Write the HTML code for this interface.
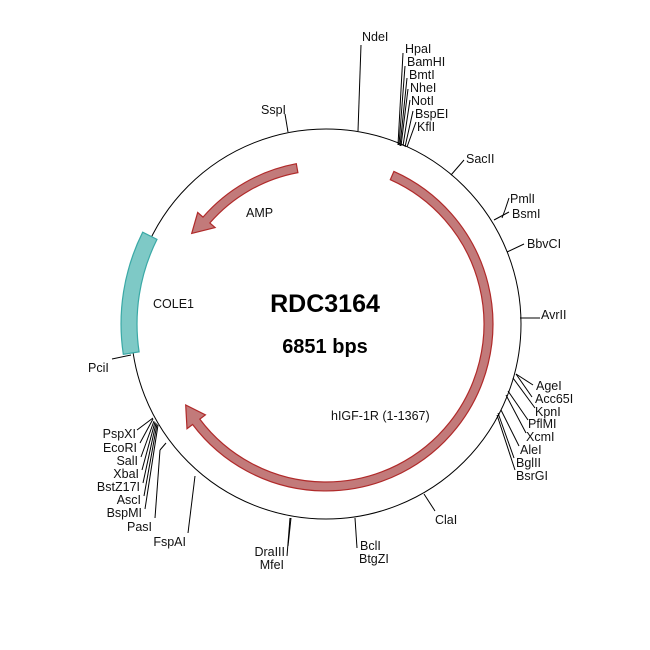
<!DOCTYPE html>
<html><head><meta charset="utf-8"><style>
html,body{margin:0;padding:0;background:#fff;}
svg{display:block;}
text{font-family:"Liberation Sans",Arial,sans-serif;font-size:12.5px;fill:#111;}
</style></head><body>
<svg width="650" height="650" viewBox="0 0 650 650" xmlns="http://www.w3.org/2000/svg">
<circle cx="326" cy="324" r="195" fill="none" stroke="#000" stroke-width="1"/>
<path d="M123.3,354.3 A205 205 0 0 1 142.7,232.2 L157,239.4 A189 189 0 0 0 139.1,351.9 Z" fill="#7ec9c6" stroke="#3aa9a6" stroke-width="1.2"/>
<path d="M296.3,163.7 A163 163 0 0 0 203,217.1 L197.7,212.5 L191.7,233.4 L215.1,227.6 L209.8,223 A154 154 0 0 1 297.9,172.6 Z" fill="#c27a7a" stroke="#b02a2a" stroke-width="1.2"/>
<path d="M393.9,171.4 A167 167 0 1 1 192.6,424.5 L187,428.7 L185.7,405 L205.4,414.9 L199.8,419.1 A158 158 0 1 0 390.3,179.7 Z" fill="#c27a7a" stroke="#b02a2a" stroke-width="1.2"/>
<g stroke="#000" stroke-width="1" fill="none">
<line x1="358" y1="131" x2="361" y2="45"/>
<line x1="398" y1="145" x2="403" y2="53"/>
<line x1="399" y1="145" x2="405" y2="66"/>
<line x1="400" y1="146" x2="407" y2="78"/>
<line x1="401" y1="146" x2="408" y2="89"/>
<line x1="403" y1="146" x2="410" y2="100"/>
<line x1="405" y1="147" x2="413" y2="111"/>
<line x1="407" y1="147" x2="416" y2="122"/>
<line x1="451" y1="175" x2="464" y2="160"/>
<line x1="502" y1="218" x2="505" y2="210"/><line x1="505" y1="210" x2="509" y2="198"/>
<line x1="494" y1="220" x2="509" y2="212"/>
<line x1="507" y1="252" x2="524" y2="244"/>
<line x1="520" y1="318" x2="540" y2="318"/>
<line x1="288" y1="132" x2="285" y2="114"/>
<line x1="131" y1="355" x2="112" y2="359"/>
<line x1="516" y1="374" x2="533" y2="385"/><line x1="516" y1="374" x2="532" y2="397"/>
<line x1="513" y1="378" x2="535" y2="408"/>
<line x1="508" y1="391" x2="528" y2="420"/>
<line x1="506" y1="395" x2="526" y2="433"/>
<line x1="501" y1="410" x2="519" y2="446"/>
<line x1="498" y1="413" x2="514" y2="458"/>
<line x1="497" y1="415" x2="515" y2="470"/>
<line x1="424" y1="494" x2="435" y2="511"/>
<line x1="355" y1="518" x2="357" y2="548"/>
<line x1="290" y1="518" x2="287" y2="556"/>
<line x1="291" y1="518" x2="288" y2="546"/>
<line x1="195" y1="476" x2="188" y2="533"/>
<line x1="166" y1="443" x2="160" y2="450"/><line x1="160" y1="450" x2="155" y2="518"/>
<line x1="153" y1="418" x2="137" y2="430"/>
<line x1="153" y1="419" x2="140" y2="443"/>
<line x1="154" y1="421" x2="141" y2="457"/>
<line x1="155" y1="422" x2="142" y2="470"/>
<line x1="156" y1="423" x2="143" y2="483"/>
<line x1="157" y1="424" x2="144" y2="496"/>
<line x1="158" y1="425" x2="145" y2="509"/>
</g>
<text x="362" y="41">NdeI</text>
<text x="405" y="53">HpaI</text>
<text x="407" y="66">BamHI</text>
<text x="409" y="79">BmtI</text>
<text x="410" y="92">NheI</text>
<text x="411" y="105">NotI</text>
<text x="415" y="118">BspEI</text>
<text x="417" y="131">KflI</text>
<text x="466" y="163">SacII</text>
<text x="510" y="203">PmlI</text>
<text x="512" y="218">BsmI</text>
<text x="527" y="248">BbvCI</text>
<text x="541" y="319">AvrII</text>
<text x="261" y="114">SspI</text>
<text x="88" y="372">PciI</text>
<text x="536" y="390">AgeI</text>
<text x="535" y="403">Acc65I</text>
<text x="535" y="416">KpnI</text>
<text x="528" y="428">PflMI</text>
<text x="526" y="441">XcmI</text>
<text x="520" y="454">AleI</text>
<text x="516" y="467">BglII</text>
<text x="516" y="480">BsrGI</text>
<text x="435" y="524">ClaI</text>
<text x="360" y="550">BclI</text>
<text x="359" y="563">BtgZI</text>
<text x="285" y="556" text-anchor="end">DraIII</text>
<text x="284" y="569" text-anchor="end">MfeI</text>
<text x="186" y="546" text-anchor="end">FspAI</text>
<text x="152" y="531" text-anchor="end">PasI</text>
<text x="136" y="438" text-anchor="end">PspXI</text>
<text x="137" y="452" text-anchor="end">EcoRI</text>
<text x="138" y="465" text-anchor="end">SalI</text>
<text x="139" y="478" text-anchor="end">XbaI</text>
<text x="140" y="491" text-anchor="end">BstZ17I</text>
<text x="141" y="504" text-anchor="end">AscI</text>
<text x="142" y="517" text-anchor="end">BspMI</text>
<text x="246" y="217">AMP</text>
<text x="153" y="308">COLE1</text>
<text x="331" y="420">hIGF-1R (1-1367)</text>
<text x="325" y="312" text-anchor="middle" style="font-size:25px;font-weight:bold;fill:#000">RDC3164</text>
<text x="325" y="353" text-anchor="middle" style="font-size:20px;font-weight:bold;fill:#000">6851 bps</text>
</svg>
</body></html>
